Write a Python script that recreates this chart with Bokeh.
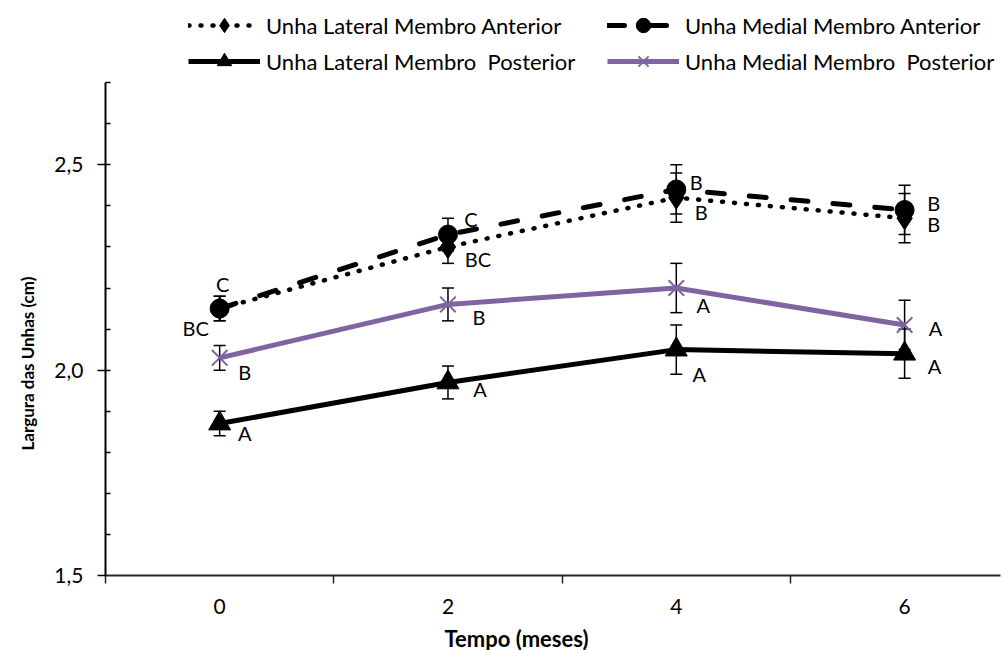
from bokeh.plotting import figure
from bokeh.models import (ColumnDataSource, Range1d, FixedTicker, Whisker, TeeHead,
                          Legend, LegendItem, Title)
from bokeh.core.properties import value
from bokeh.embed import file_html
from bokeh.resources import INLINE

# Tempo de avaliação (meses)
months = [0, 2, 4, 6]

# Largura média das unhas (cm), erro padrão e letras de significância
lat_ant = [2.15, 2.30, 2.42, 2.37]
lat_ant_err = [0.03, 0.04, 0.06, 0.06]
lat_ant_letters = ["BC", "BC", "B", "B"]

med_ant = [2.15, 2.33, 2.44, 2.39]
med_ant_err = [0.03, 0.04, 0.06, 0.06]
med_ant_letters = ["C", "C", "B", "B"]

lat_post = [1.87, 1.97, 2.05, 2.04]
lat_post_err = [0.03, 0.04, 0.06, 0.06]
lat_post_letters = ["A", "A", "A", "A"]

med_post = [2.03, 2.16, 2.20, 2.11]
med_post_err = [0.03, 0.04, 0.06, 0.06]
med_post_letters = ["B", "B", "A", "A"]

y_ticks = [1.5, 2.0, 2.5]
y_tick_labels = ["1,5", "2,0", "2,5"]
y_minor_ticks = [1.6, 1.7, 1.8, 1.9, 2.0, 2.1, 2.2, 2.3, 2.4, 2.5, 2.6, 2.7]
y_axis_extent = (1.5, 2.7)
x_boundaries = [-1, 1, 3, 5]

# pixel offsets of the significance letters, per series
lat_ant_dx, lat_ant_dy = [-24, 30, 25, 29], [19, 12, 14, 6]
med_ant_dx, med_ant_dy = [3, 23, 20, 29], [-25, -16, -7, -7]
lat_post_dx, lat_post_dy = [25, 32, 23, 30], [9, 7, 24, 12]
med_post_dx, med_post_dy = [25, 31, 27, 31], [14, 13, 17, 3]

FONT = "Lato"
PURPLE = "#8064A2"

# the frame reaches the top edge so that the legend sits inside it;
# the y axis line itself stops at 2,7
p = figure(frame_width=895, frame_height=575,
           min_border_left=105, min_border_right=2,
           min_border_top=0, min_border_bottom=75,
           x_range=Range1d(-1, 6.84), y_range=Range1d(1.5, 2.9),
           output_backend="svg", toolbar_location=None)
p.outline_line_color = None
p.xgrid.visible = False
p.ygrid.visible = False
p.background_fill_color = "white"
p.border_fill_color = "white"


def add_series(vals, errs, letters, dx, dy, line_kw, marker_kw):
    src = ColumnDataSource(dict(
        x=months, y=vals,
        upper=[v + e for v, e in zip(vals, errs)],
        lower=[v - e for v, e in zip(vals, errs)],
        letter=letters, dx=dx, dy=dy))
    whisk = Whisker(base="x", upper="upper", lower="lower", source=src,
                    dimension="height", line_color="black", line_width=1.5,
                    upper_head=TeeHead(size=12, line_width=1.5, line_color="black"),
                    lower_head=TeeHead(size=12, line_width=1.5, line_color="black"),
                    level="underlay")
    p.add_layout(whisk)
    lr = p.line("x", "y", source=src, **line_kw)
    sr = p.scatter("x", "y", source=src, **marker_kw)
    p.text("x", "y", text="letter", source=src, x_offset="dx", y_offset="dy",
           text_font=value(FONT), text_font_size="20px", text_color="black",
           text_align="center", text_baseline="middle")
    return lr, sr


l1, s1 = add_series(lat_ant, lat_ant_err, lat_ant_letters, lat_ant_dx, lat_ant_dy,
                    dict(line_color="black", line_width=4.5, line_dash="1 11",
                         line_cap="round"),
                    dict(marker="diamond", size=23, fill_color="black",
                         line_color="black"))
l2, s2 = add_series(med_ant, med_ant_err, med_ant_letters, med_ant_dx, med_ant_dy,
                    dict(line_color="black", line_width=5, line_dash="17 25",
                         line_cap="round"),
                    dict(marker="circle", size=19, fill_color="black",
                         line_color="black"))
l3, s3 = add_series(lat_post, lat_post_err, lat_post_letters, lat_post_dx, lat_post_dy,
                    dict(line_color="black", line_width=5),
                    dict(marker="triangle", size=22, fill_color="black",
                         line_color="black"))
l4, s4 = add_series(med_post, med_post_err, med_post_letters, med_post_dx, med_post_dy,
                    dict(line_color=PURPLE, line_width=5),
                    dict(marker="x", size=22, line_color=PURPLE, line_width=2))

legend_style = dict(label_text_font=FONT, label_text_font_size="22px",
                    label_text_color="black", glyph_width=72, glyph_height=36,
                    label_height=36, label_standoff=6, spacing=0, padding=0,
                    margin=0, border_line_alpha=0, background_fill_alpha=0)
leg1 = Legend(items=[LegendItem(label="Unha Lateral Membro Anterior", renderers=[l1, s1]),
                     LegendItem(label="Unha Lateral Membro  Posterior", renderers=[l3, s3])],
              location=(83, 496), **legend_style)
leg2 = Legend(items=[LegendItem(label="Unha Medial Membro Anterior", renderers=[l2, s2]),
                     LegendItem(label="Unha Medial Membro  Posterior", renderers=[l4, s4])],
              location=(502, 496), **legend_style)
p.add_layout(leg1)
p.add_layout(leg2)

# y axis
ya = p.yaxis[0]
ya.bounds = y_axis_extent
ya.ticker = FixedTicker(ticks=y_ticks, minor_ticks=y_minor_ticks)
ya.major_label_overrides = dict(zip(y_ticks, y_tick_labels))
ya.axis_line_color = "black"
ya.axis_line_width = 2
ya.major_tick_line_color = "black"
ya.major_tick_line_width = 1.5
ya.major_tick_out = 8
ya.major_tick_in = 0
ya.minor_tick_line_color = "black"
ya.minor_tick_line_width = 1.5
ya.minor_tick_in = 5
ya.minor_tick_out = 0
ya.major_label_standoff = 14
ya.major_label_text_font = FONT
ya.major_label_text_font_size = "21px"
ya.major_label_text_color = "black"

# x axis
xa = p.xaxis[0]
xa.ticker = FixedTicker(ticks=months, minor_ticks=x_boundaries)
xa.axis_line_color = "#262626"
xa.axis_line_width = 2
xa.major_tick_out = 0
xa.major_tick_in = 0
xa.minor_tick_line_color = "#262626"
xa.minor_tick_line_width = 1.5
xa.minor_tick_out = 8
xa.minor_tick_in = 0
xa.major_label_standoff = 15
xa.major_label_text_font = FONT
xa.major_label_text_font_size = "21px"
xa.major_label_text_color = "black"

# axis titles
p.add_layout(Title(text="Largura das Unhas (cm)", align="left", offset=125, standoff=28,
                   text_font=FONT, text_font_style="bold", text_font_size="17px",
                   text_color="black"), "left")
p.add_layout(Title(text="Tempo (meses)", align="left", offset=339, standoff=12,
                   text_font=FONT, text_font_style="bold", text_font_size="22px",
                   text_color="black"), "below")

open("out.html", "w").write(file_html(p, INLINE))
